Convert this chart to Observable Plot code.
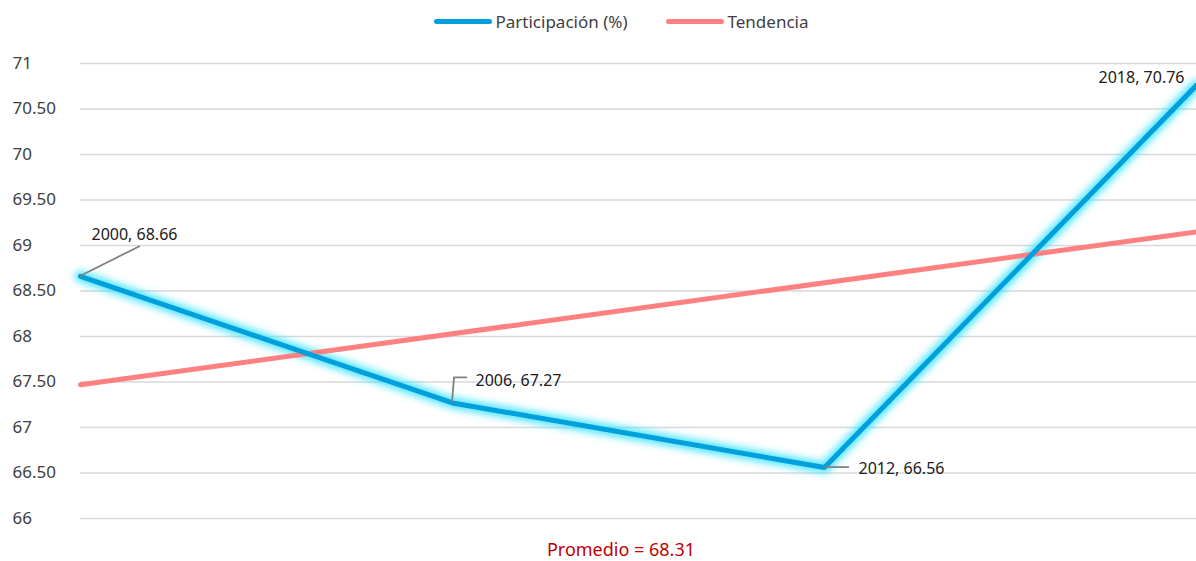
<!DOCTYPE html>
<html><head><meta charset="utf-8">
<script src="https://cdn.jsdelivr.net/npm/d3@7"></script>
<script src="https://cdn.jsdelivr.net/npm/@observablehq/plot@0.6"></script>
<style>
body{margin:0;background:#fff;font-family:"Noto Sans",sans-serif;width:1196px;overflow:hidden}
#legend{height:42px;display:flex;justify-content:center;align-items:center;font-size:17px;color:#404040;padding-left:46px;box-sizing:border-box}
#legend .item{display:flex;align-items:center;margin:0 19px}
#legend .sw{display:inline-block;width:58px;height:5px;border-radius:3px;margin-right:4px}
#caption{height:24px;line-height:24px;text-align:center;color:#c00000;font-size:18px;padding-left:46px}
</style></head>
<body>
<div id="legend"></div>
<div id="chart"></div>
<div id="caption"></div>
<script>
// ---- data ----
const years = [2000, 2006, 2012, 2018];
const participacion = [68.66, 67.27, 66.56, 70.76];
const trendYears = [2000, 2018];
const trendValues = [67.47, 69.15];
const yTicks = [66, 66.5, 67, 67.5, 68, 68.5, 69, 69.5, 70, 70.5, 71];
const seriesNames = ["Participación (%)", "Tendencia"];
const promedio = 68.31;

// ---- styles ----
const blue = "#00a0dc", red = "#ff8080";
const labelStyle = {
  2000: {dx: 11, dy: -42, anchor: "start", leader: [[0,0],[60,-30]]},
  2006: {dx: 23, dy: -22, anchor: "start", leader: [[0,0],[2,-25],[15,-25]]},
  2012: {dx: 34, dy: 1, anchor: "start", leader: [[0,0],[25,0]]},
  2018: {dx: -12, dy: -7, anchor: "end", leader: null}
};

const data = years.map((y, i) => ({year: y, value: participacion[i]}));
const trend = trendYears.map((y, i) => ({year: y, value: trendValues[i]}));

document.getElementById("legend").innerHTML =
  `<span class="item"><span class="sw" style="background:${blue}"></span>${seriesNames[0]}</span>` +
  `<span class="item"><span class="sw" style="background:${red}"></span>${seriesNames[1]}</span>`;
document.getElementById("caption").textContent = "Promedio = " + promedio.toFixed(2);

const fmt = d => Number.isInteger(d) ? String(d) : d.toFixed(2);

const leaders = (index, scales) => {
  const g = d3.create("svg:g").attr("fill", "none").attr("stroke", "#808080").attr("stroke-width", 1.8);
  for (const d of data) {
    const s = labelStyle[d.year];
    if (!s.leader) continue;
    const px = scales.x(d.year), py = scales.y(d.value);
    g.append("path").attr("d", "M" + s.leader.map(([a, b]) => `${px + a},${py + b}`).join("L"));
  }
  return g.node();
};

const plot = Plot.plot({
  width: 1196,
  height: 495,
  marginLeft: 80,
  marginRight: 0,
  marginTop: 21,
  marginBottom: 19,
  style: {fontFamily: "Noto Sans, sans-serif", fontSize: "16px", color: "#404040", background: "#fff"},
  x: {domain: [2000, 2018], axis: null},
  y: {domain: [66, 71], axis: null},
  marks: [
    Plot.gridY(yTicks, {stroke: "#d9d9d9", strokeOpacity: 1, strokeWidth: 1.6}),
    Plot.axisY(yTicks, {tickSize: 0, tickPadding: 0, textAnchor: "start", dx: -68, tickFormat: fmt, fill: "#404040", fontSize: 17, label: null}),
    Plot.line(data, {x: "year", y: "value", stroke: "#40e4ff", strokeWidth: 12, strokeOpacity: 0.85}),
    Plot.line(trend, {x: "year", y: "value", stroke: red, strokeWidth: 5}),
    Plot.line(data, {x: "year", y: "value", stroke: blue, strokeWidth: 5, strokeLinejoin: "miter"}),
    leaders,
    ...data.map(d => Plot.text([d], {
      x: "year", y: "value",
      text: d => `${d.year}, ${d.value.toFixed(2)}`,
      dx: labelStyle[d.year].dx, dy: labelStyle[d.year].dy,
      textAnchor: labelStyle[d.year].anchor, fill: "#202020", fontSize: 16
    }))
  ]
});

const svg = d3.select(plot);
const defs = svg.insert("defs", ":first-child");
defs.append("filter").attr("id", "glowf").attr("x", "-10%").attr("y", "-20%").attr("width", "120%").attr("height", "140%")
  .append("feGaussianBlur").attr("stdDeviation", 3.5);
const lineGroups = svg.selectAll('g[aria-label="line"]').nodes();
if (lineGroups.length) d3.select(lineGroups[0]).attr("filter", "url(#glowf)");
document.getElementById("chart").append(plot);
</script>
</body></html>
